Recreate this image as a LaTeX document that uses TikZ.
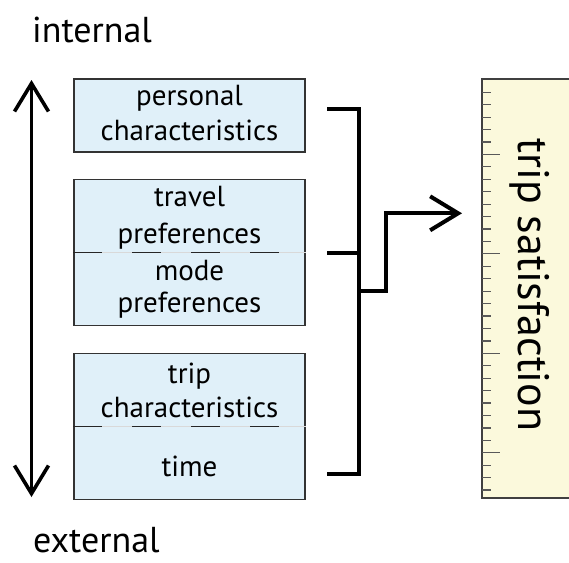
\documentclass[tikz,border=0pt]{standalone}
\usepackage{fontspec}
\setsansfont{PT Sans}
\usetikzlibrary{shapes}
\usetikzlibrary{shapes,arrows,arrows.meta}
\tikzstyle{every picture}+=[font=\sffamily]

\tikzstyle{faktor}=[draw=black!80, line width=1.3pt, fill=hellblau, minimum width=231pt, inner sep=0pt]
\tikzstyle{beschriftung}=[anchor=base, inner sep=0pt, font=\sffamily\fontsize{29}{35}\selectfont]
\tikzstyle{pol}=[anchor=base west, inner sep=0pt, font=\sffamily\fontsize{36}{40}\selectfont]
\tikzstyle{trennlinie}=[black!15, line width=0.8pt]
\tikzstyle{trennstrich}=[black!85, line width=1.5pt, dash pattern=on 29pt off 30pt]
\tikzstyle{klammer}=[black, line width=4pt]
\tikzstyle{strich}=[black!65, line width=1.2pt]

\begin{document}
\begin{tikzpicture}[x=1pt, y=-1pt]

\definecolor{hellblau}{HTML}{E0F0F9}
\definecolor{hellgelb}{HTML}{FBF9DC}
\useasboundingbox (0,0) rectangle (569,562);
\clip (0,0) rectangle (569,562);

%% Achse intern - extern
\node[pol] (intern) at (32,42) {internal};
\node[pol] (extern) at (33,552) {external};
\coordinate (oben) at (31.5,80);
\coordinate (unten) at (31.5,497);
\draw[black, line width=3.6pt,
      {Straight Barb[length=28pt, width=34pt]}-{Straight Barb[length=28pt, width=34pt]}]
      (unten) -- (oben);

%% Faktoren
\node[faktor, minimum height=73pt] (person) at (189.5,115.5) {};
\node[beschriftung] (person1) at (189.5,105) {personal};
\node[beschriftung] (person2) at (189.5,140) {characteristics};

\node[faktor, minimum height=146pt] (praef) at (189.5,252.5) {};
\draw[trennlinie] (praef.west) -- (praef.east);
\draw[trennstrich] (praef.west) -- (praef.east);
\node[beschriftung] (praef1) at (189.5,206.7) {travel};
\node[beschriftung] (praef2) at (189.5,243) {preferences};
\node[beschriftung] (praef3) at (189.5,280) {mode};
\node[beschriftung] (praef4) at (189.5,312) {preferences};

\node[faktor, minimum height=146pt] (reise) at (189.5,426.5) {};
\draw[trennlinie] (reise.west) -- (reise.east);
\draw[trennstrich] (reise.west) -- (reise.east);
\node[beschriftung] (reise1) at (189.5,383) {trip};
\node[beschriftung] (reise2) at (189.5,417) {characteristics};
\node[beschriftung] (reise3) at (189.5,476.5) {time};

%% Zufriedenheit
\node[draw=black!75, line width=1.5pt, fill=hellgelb, minimum width=96pt, minimum height=419pt,
      inner sep=0pt] (zufr) at (530,288.5) {};
\foreach \i in {0,...,32}{
  \pgfmathsetmacro\ty{92.3+12.43*\i}
  \draw[strich] (482,\ty) -- ++(9,0);
}
\foreach \i in {5,13,21,29}{
  \pgfmathsetmacro\ty{92.3+12.43*\i}
  \draw[strich] (482,\ty) -- ++(18,0);
}
\node[rotate=-90, anchor=base, inner sep=0pt, font=\sffamily\fontsize{44}{50}\selectfont]
      (zufrtext) at (518,285) {trip satisfaction};

%% Klammer
\coordinate (k1) at (327,109);
\coordinate (k2) at (327,252.5);
\coordinate (k3) at (327,474);
\coordinate (abzw) at (358.5,291);
\coordinate (ziel) at (462,213.3);
\draw[klammer] (k1) -- (358.5,109) -- (358.5,474) -- (k3);
\draw[klammer] (k2) -- (358.5,252.5);
\draw[klammer, -{Straight Barb[length=28pt, width=34pt]}]
      (abzw) -- (386,291) -- (386,213.3) -- (ziel);

\end{tikzpicture}
\end{document}
